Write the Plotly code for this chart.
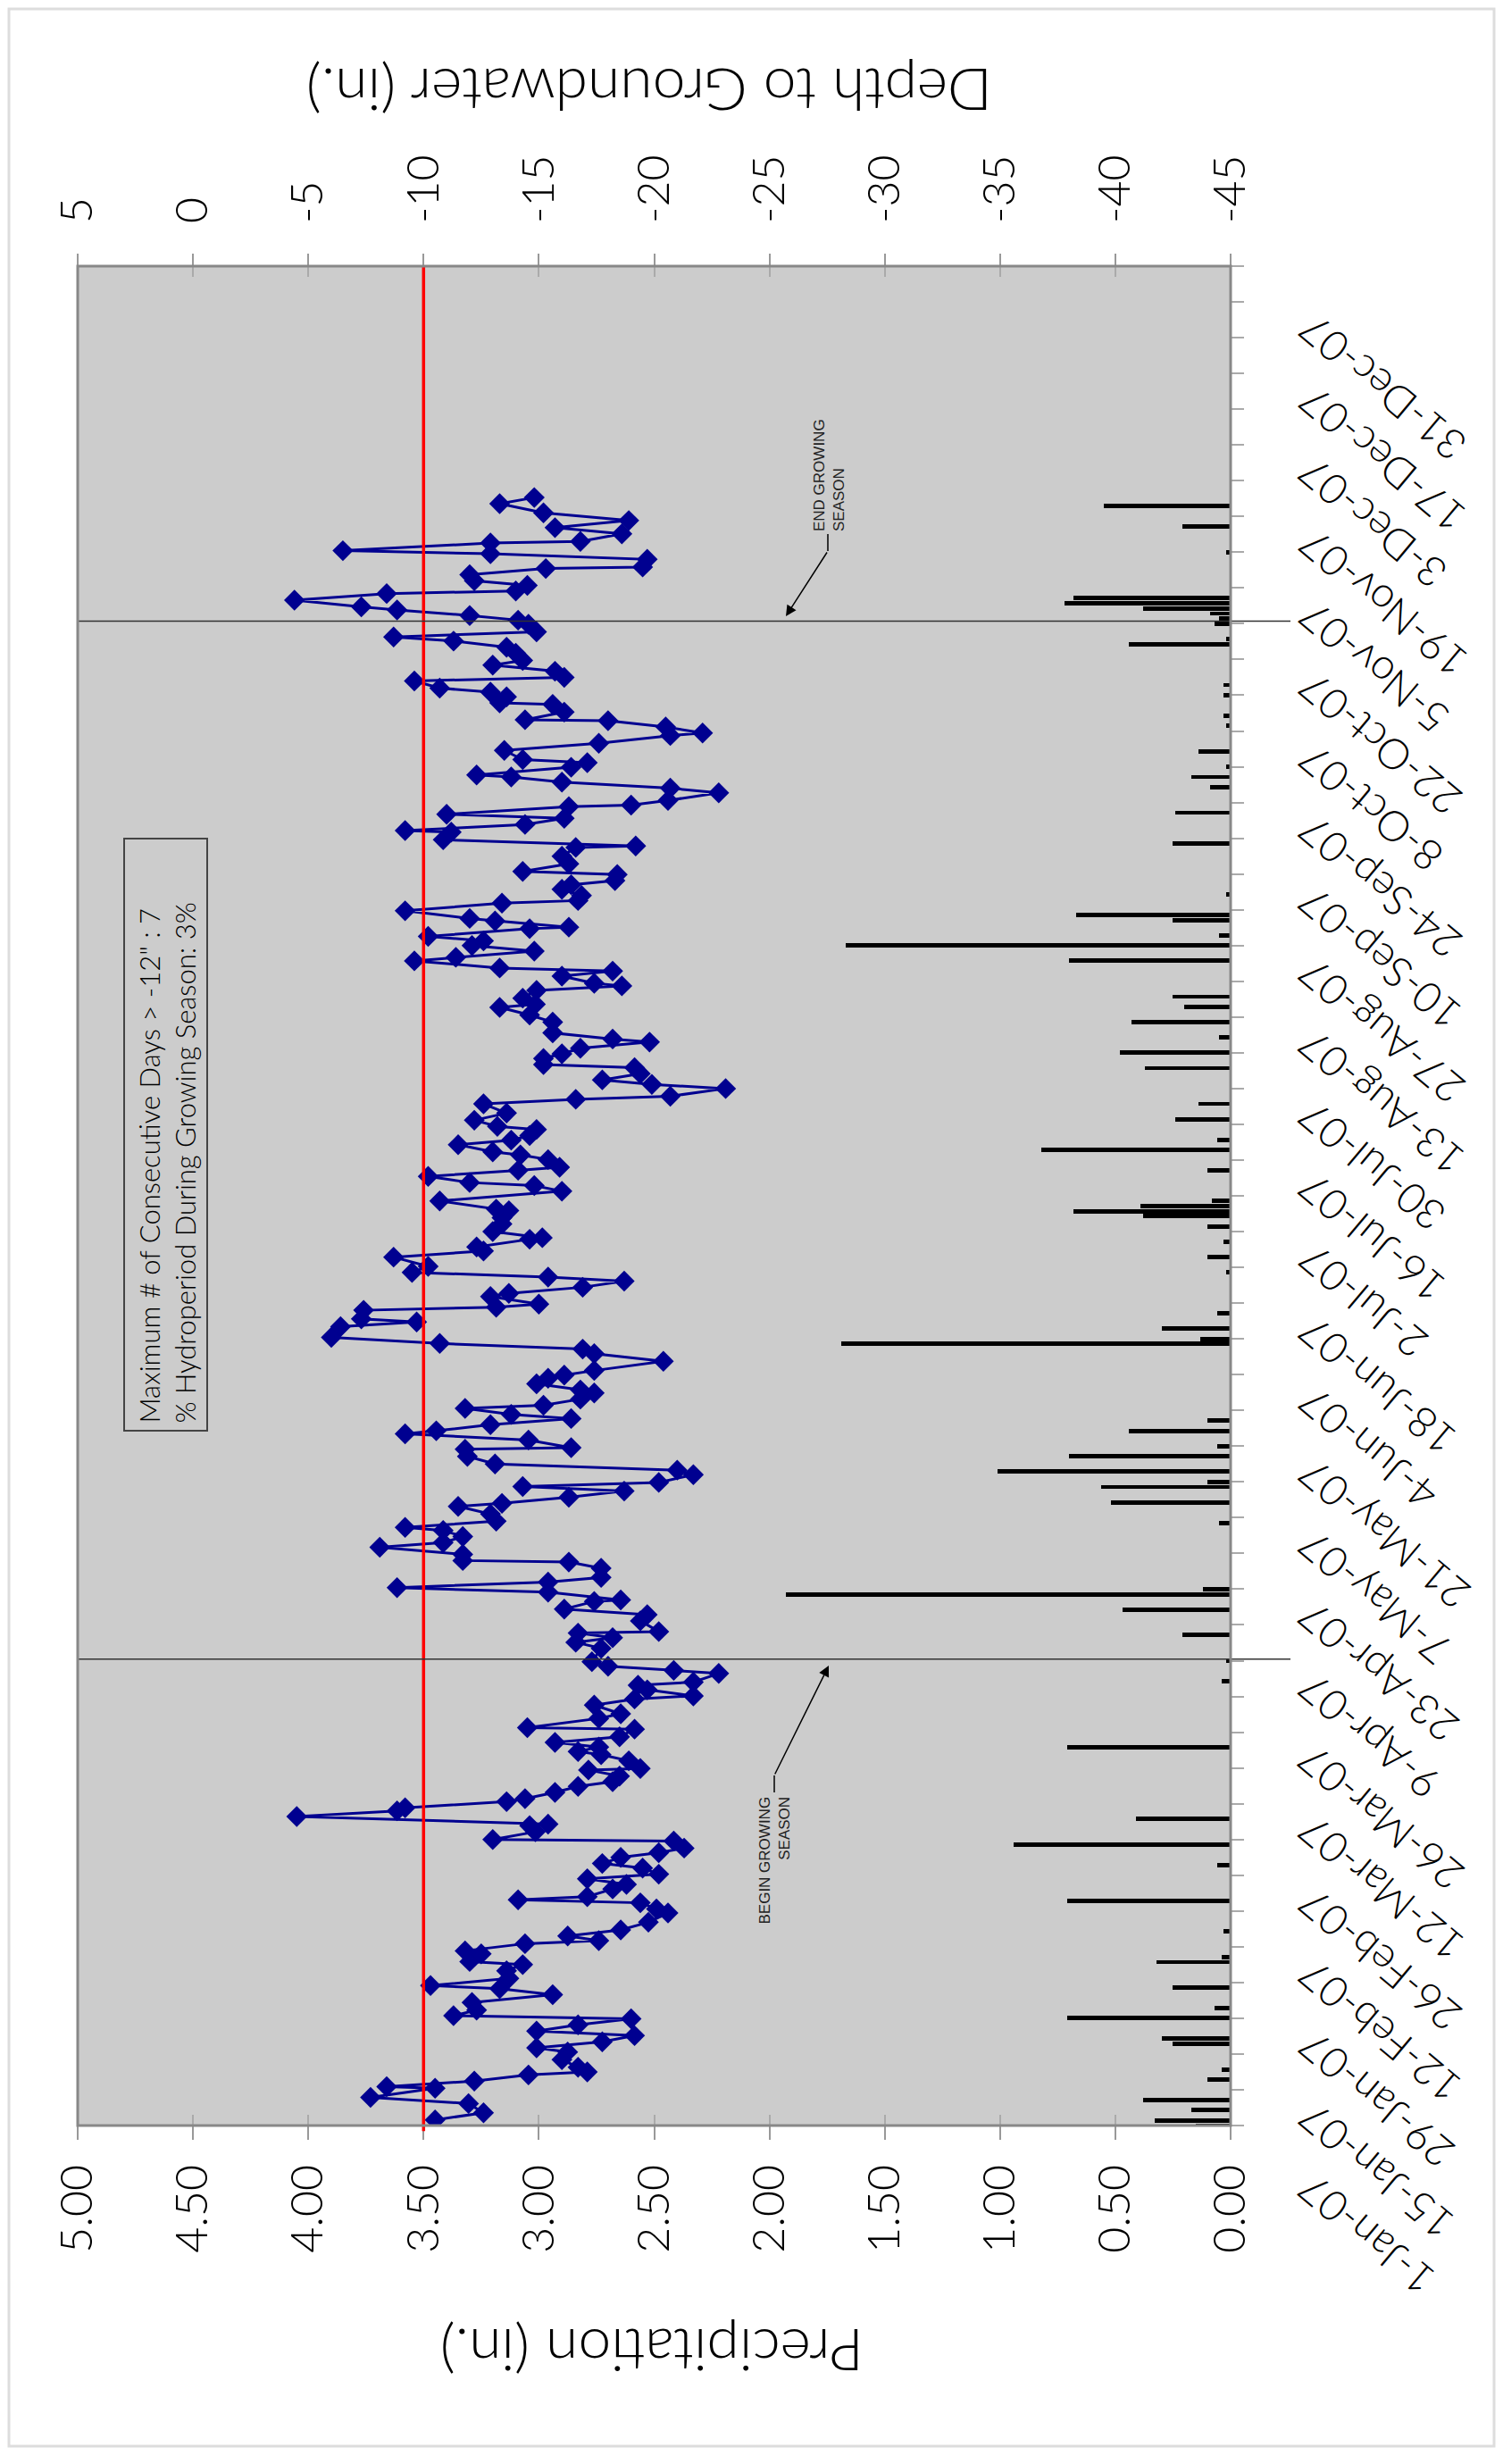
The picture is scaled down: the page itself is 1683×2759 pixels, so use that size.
import pandas as pd
import plotly.graph_objects as go

# ---------------- data ----------------
# groundwater readings: day offset from 1-Jan-2007, depth (in.)
gw_day = [1.1, 2.5, 4.3, 5.5, 7.3, 7.6, 8.7, 9.9, 10.5, 11.4, 12.9, 14.4, 15.2, 16.4, 17.6, 18.5, 19.7, 20.9,
          21.5, 22.6, 24.1, 25.6, 26.8, 27.4, 28.8, 30.3, 31.5, 32.1, 33.6, 34.2, 35.6, 36.2, 37.1, 38.3, 39.8,
          41.6, 42.4, 43.6, 44.2, 44.8, 46.3, 47.2, 48.3, 49.2, 50.4, 51.3, 52.5, 53.4, 54.3, 55.7, 56.0, 57.5,
          58.7, 59.0, 60.5, 61.6, 62.2, 63.4, 64.0, 65.2, 66.4, 67.3, 68.4, 69.6, 69.9, 71.4, 72.6, 73.2, 74.1,
          75.0, 76.1, 77.6, 77.9, 79.7, 80.6, 82.3, 83.5, 84.1, 85.3, 86.2, 86.8, 88.5, 89.1, 89.9, 90.8,
          93.4, 94.6, 95.5, 96.4, 96.7, 98.8, 100.0, 101.1, 102.6, 102.9, 104.4, 105.3, 106.4, 107.3, 109.1,
          110.3, 110.6, 111.8, 113.2, 114.1, 115.3, 116.5, 117.1, 118.3, 119.7, 121.2, 121.8, 123.0, 124.2,
          125.1, 125.9, 127.4, 128.3, 129.5, 131.0, 132.4, 132.7, 134.2, 135.4, 136.0, 137.2, 138.4, 139.2,
          140.4, 141.0, 142.2, 143.4, 144.0, 145.2, 146.3, 146.9, 147.8, 149.6, 151.1, 152.0, 153.1, 154.3,
          156.4, 157.3, 157.9, 159.6, 160.2, 160.8, 162.3, 162.9, 164.1, 165.3, 166.1, 167.0, 168.2, 170.0,
          171.2, 172.0, 173.5, 173.8, 175.0, 176.5, 177.7, 179.1, 179.4, 181.0,
          182.9, 184.0, 184.6, 185.8, 187.0, 187.6, 189.1, 190.0, 190.6, 192.0, 192.9, 193.8, 195.0, 195.6,
          196.8, 198.2, 200.0, 200.9, 201.5, 203.0, 203.8, 204.7, 205.9, 207.1, 207.7, 208.9, 209.8, 210.9,
          212.1, 212.7, 213.9, 216.0, 217.4, 218.9, 219.5, 220.7, 222.2, 223.1, 223.6, 225.0, 226.0, 226.6,
          228.0, 228.7, 229.9, 231.0, 231.9, 232.8, 234.3, 234.6, 235.8, 236.3, 237.8, 239.3, 239.8, 240.8,
          242.0, 242.9, 243.7, 244.9, 245.5, 247.0, 248.5, 250.2, 250.5, 251.7, 253.2, 253.5, 254.7, 255.9,
          256.7, 258.2, 258.5, 259.4, 260.9, 261.8, 263.0, 264.0, 264.4, 265.9, 266.8, 267.4, 269.2, 270.6,
          272.1, 272.6, 273.8, 275.0, 275.2, 276.7, 278.2, 278.5, 279.7, 280.6, 281.4, 282.8, 283.5, 284.7,
          285.9, 286.8, 288.2, 289.4, 290.6, 291.4, 292.4, 293.9, 294.7, 295.6, 296.7, 297.3, 298.6, 299.9,
          300.4, 301.5, 302.4, 303.6, 304.8, 305.1, 306.6, 307.7, 308.3, 309.8, 310.1, 311.6, 312.8, 314.2,
          315.7, 317.5, 318.7]
gw_depth = [-10.5, -12.6, -11.95, -7.7, -10.5, -8.4, -12.2, -14.55, -17.1, -16.7, -16.0, -16.25, -14.9, -17.75,
            -19.15, -14.9, -16.7, -19.0, -11.3, -12.3, -12.1, -15.6, -13.3, -10.3, -13.7, -13.6, -14.3, -12.0,
            -12.5, -11.8, -14.4, -17.6, -16.25, -18.55, -19.75, -20.6, -20.1, -19.4, -14.1, -17.1, -18.2, -18.8,
            -17.1, -20.2, -19.5, -17.75, -18.55, -20.2, -21.3, -20.85, -13.0, -14.85, -14.6, -15.4, -4.5, -8.85,
            -9.2, -13.6, -14.4, -15.7, -16.7, -18.2, -18.5, -17.15, -19.4, -18.9, -17.7, -16.7, -17.6, -15.7,
            -18.5, -19.15, -14.5, -17.6, -18.55, -17.4, -19.15, -21.7, -19.7, -19.3, -21.7, -22.8, -20.85, -18.0,
            -17.3,
            -17.7, -16.6, -18.2, -16.7, -20.2, -19.4, -19.7, -16.1, -17.4, -18.55, -15.4, -8.85, -15.4, -17.7,
            -17.7, -16.3, -11.7, -11.7, -8.1, -10.85, -11.7, -10.85, -9.2, -13.15, -12.9, -11.5, -13.4, -16.3,
            -18.7, -14.3, -20.2, -21.7, -21.0, -13.1, -11.9, -11.8, -16.4, -14.55, -9.2, -10.55, -12.9, -16.4,
            -13.8, -11.8, -15.2, -16.8, -17.4, -16.8, -14.9, -15.4, -16.1, -17.4, -20.4, -17.4, -16.9, -10.7,
            -6.0, -6.4, -9.7, -7.3, -7.4, -13.15, -15.0, -12.9, -13.7, -16.9, -18.7, -15.4, -9.5, -10.2, -8.7,
            -12.6, -12.3, -14.6, -15.15, -13.0, -13.4, -13.4, -13.7, -13.15, -10.7,
            -16.0, -14.8, -12.0, -10.2, -14.1, -15.9, -15.4, -14.2, -13.0, -11.5, -13.8, -14.6, -14.9, -13.2,
            -12.2, -13.6, -12.6, -16.6, -20.7, -23.1, -19.9, -17.75, -19.4, -19.15, -15.2, -15.2, -16.0, -16.8,
            -19.8, -18.2, -15.6, -15.6, -14.6, -13.3, -14.85, -14.3, -14.9, -18.6, -17.4, -16.0, -18.2, -13.3,
            -9.6, -11.4, -14.8, -12.1, -12.6, -10.2, -14.6, -16.3, -13.1, -12.0, -9.2, -13.4, -16.7, -16.85,
            -16.0, -16.4, -18.3, -18.4, -14.3, -16.3, -16.0, -16.6, -19.2, -10.85, -11.2, -9.2, -14.4, -16.1,
            -11.0, -16.3, -19.0, -20.6, -22.8, -20.7, -16.0, -13.8, -12.3, -16.4, -17.1, -14.3, -13.5, -17.6,
            -20.7, -22.1, -20.5, -18.0, -14.4, -16.1, -15.6, -13.3, -13.6, -12.9, -10.7, -9.6, -16.1, -15.7,
            -13.0, -14.3, -14.0, -13.6, -11.3, -8.7, -14.9, -14.55, -14.1, -12.0, -8.85, -7.3, -4.4, -8.4,
            -14.0, -14.5, -12.2, -12.0, -15.3, -19.5, -19.7, -12.9, -6.5, -12.9, -16.8, -18.6, -15.7, -18.9,
            -15.2, -13.3, -14.8]

# daily precipitation: day offset from 1-Jan-2007, inches
pr_day = [0, 1, 3, 5, 9, 11, 16, 17, 21, 23, 27, 32, 33, 38, 44, 51, 55, 60, 74, 87, 91, 96, 101, 104, 105,
          118, 122, 125, 126, 128, 131, 133, 136, 138, 153, 154, 156, 159, 167, 170, 173, 176, 178, 179, 180,
          181, 187, 191, 193, 197, 200, 207, 210, 213, 216, 219, 221, 228, 231, 233, 236, 237, 241, 251, 257,
          262, 264, 266, 269, 274, 276, 280, 282, 290, 291, 294, 295, 296, 297, 298, 299, 308, 313, 317]
pr_in = [0.15, 0.33, 0.17, 0.38, 0.10, 0.04, 0.25, 0.30, 0.71, 0.07, 0.25, 0.32, 0.04, 0.03, 0.71, 0.06, 0.94,
         0.41, 0.71, 0.04, 0.02, 0.21, 0.47, 1.93, 0.12, 0.05, 0.52, 0.56, 0.10, 1.01, 0.70, 0.06, 0.44, 0.10,
         1.69, 0.13, 0.30, 0.06, 0.02, 0.10, 0.03, 0.10, 0.38, 0.68, 0.39, 0.08, 0.10, 0.82, 0.06, 0.24, 0.14,
         0.37, 0.48, 0.05, 0.43, 0.20, 0.25, 0.70, 1.67, 0.05, 0.25, 0.67, 0.02, 0.25, 0.24, 0.09, 0.17, 0.02,
         0.14, 0.02, 0.03, 0.03, 0.03, 0.44, 0.02, 0.07, 0.05, 0.09, 0.38, 0.72, 0.68, 0.02, 0.21, 0.55]

precip_ticks = [5.0, 4.5, 4.0, 3.5, 3.0, 2.5, 2.0, 1.5, 1.0, 0.5, 0.0]
depth_ticks = [5, 0, -5, -10, -15, -20, -25, -30, -35, -40, -45]
THRESHOLD = -10
GROW_BEGIN = "2007-04-02 07:00"
GROW_END = "2007-10-22 12:00"
BOX_TEXT = 'Maximum # of Consecutive Days > -12" : 7<br>% Hydroperiod During Growing Season: 3%'

BASE = pd.Timestamp("2007-01-01")
gw_dates = [BASE + pd.Timedelta(days=d) for d in gw_day]
pr_dates = [BASE + pd.Timedelta(days=d) for d in pr_day]
label_dates = list(pd.date_range("2007-01-01", "2007-12-31", freq="14D"))
date_labels = [f"{d.day}-{d.strftime('%b')}-{d.strftime('%y')}" for d in label_dates]

# ---------------- layout geometry (page pixels; body margin is 8px) ----------------
OFF = 8
W, H = 1667, 2743              # figure size
L, R, T, B = 87, 1378, 298, 2380   # plot area in page pixels
PW, PH = R - L, B - T


def px(x):
    return (x - L) / PW


def py(y):
    return (B - y) / PH


FONT = "Lato, Liberation Sans, sans-serif"
NARROW = "Liberation Sans Narrow, Liberation Sans, sans-serif"
NAVY = "#000090"

fig = go.Figure()
fig.add_trace(go.Bar(x=pr_in, y=pr_dates, orientation="h", marker=dict(color="black", line=dict(width=0)),
                     width=0.85 * 86400000, xaxis="x", yaxis="y", showlegend=False))
fig.add_trace(go.Scatter(x=gw_depth, y=gw_dates, mode="lines+markers", xaxis="x2", yaxis="y",
                         line=dict(color=NAVY, width=3),
                         marker=dict(symbol="diamond", size=18, color=NAVY), showlegend=False))
# helper empty traces so the inside-tick axes get drawn
fig.add_trace(go.Scatter(x=[None], y=[None], xaxis="x3", yaxis="y", showlegend=False, hoverinfo="skip"))
fig.add_trace(go.Scatter(x=[None], y=[None], xaxis="x4", yaxis="y", showlegend=False, hoverinfo="skip"))

tickfont = dict(family=FONT, size=50, color="black", weight=300)

fig.update_layout(
    width=W, height=H,
    margin=dict(l=L - OFF, r=W - (R - OFF), t=T - OFF, b=H - (B - OFF), pad=0, autoexpand=False),
    paper_bgcolor="white", plot_bgcolor="#cccccc",
    font=dict(family=FONT, color="black"),
    showlegend=False,
    bargap=0,
    xaxis=dict(range=[5, 0], tickmode="array", tickvals=precip_ticks,
               ticktext=[f"{v:.2f}" for v in precip_ticks], ticks="outside", ticklen=15,
               tickcolor="#999999", tickwidth=2, tickangle=-90, tickfont=tickfont,
               ticklabelstandoff=8, showgrid=False, zeroline=False, showline=False),
    xaxis2=dict(range=[5, -45], overlaying="x", side="top", tickmode="array", tickvals=depth_ticks,
                ticktext=[str(v) for v in depth_ticks], ticks="outside", ticklen=13,
                tickcolor="#999999", tickwidth=2, tickangle=-90, tickfont=tickfont,
                ticklabelstandoff=24, showgrid=False, zeroline=False, showline=False),
    xaxis3=dict(range=[5, 0], overlaying="x", side="bottom", tickmode="array", tickvals=precip_ticks,
                ticks="inside", ticklen=12, tickcolor="#aaaaaa", tickwidth=2, showticklabels=False,
                showgrid=False, zeroline=False, showline=False),
    xaxis4=dict(range=[5, -45], overlaying="x", side="top", tickmode="array", tickvals=depth_ticks,
                ticks="inside", ticklen=12, tickcolor="#aaaaaa", tickwidth=2, showticklabels=False,
                showgrid=False, zeroline=False, showline=False),
    yaxis=dict(type="date", range=[BASE, BASE + pd.Timedelta(days=364)], side="right",
               tick0="2007-01-01", dtick=7 * 86400000, ticks="outside", ticklen=14,
               tickcolor="#aaaaaa", tickwidth=2, showticklabels=False, showgrid=False,
               zeroline=False, showline=False),
)

shapes = []
# page frame
shapes.append(dict(type="rect", xref="paper", yref="paper", x0=px(10), x1=px(1673), y0=py(2739), y1=py(10),
                   line=dict(color="#dddddd", width=3), fillcolor="rgba(0,0,0,0)", layer="below"))
# statistics box
shapes.append(dict(type="rect", xref="paper", yref="paper", x0=px(139), x1=px(232), y0=py(1602), y1=py(939),
                   line=dict(color="#444444", width=2), fillcolor="#cccccc", layer="below"))
# threshold line
shapes.append(dict(type="line", xref="x2", yref="paper", x0=THRESHOLD, x1=THRESHOLD, y0=-0.003, y1=1,
                   line=dict(color="#ff0000", width=3.5), layer="above"))
# growing season lines
for d in (GROW_BEGIN, GROW_END):
    shapes.append(dict(type="line", xref="paper", yref="y", x0=0, x1=px(1445), y0=d, y1=d,
                       line=dict(color="#333333", width=1.5), layer="above"))
# leader stubs
shapes.append(dict(type="line", xref="paper", yref="paper", x0=px(927), x1=px(927), y0=py(598), y1=py(617),
                   line=dict(color="black", width=1.5)))
shapes.append(dict(type="line", xref="paper", yref="paper", x0=px(867), x1=px(867), y0=py(1988), y1=py(2007),
                   line=dict(color="black", width=1.5)))
# plot border
shapes.append(dict(type="rect", xref="paper", yref="paper", x0=0, x1=1, y0=0, y1=1,
                   line=dict(color="#888888", width=3), fillcolor="rgba(0,0,0,0)", layer="above"))
fig.update_layout(shapes=shapes)

ann = []
ann.append(dict(text="Depth to Groundwater (in.)", xref="paper", yref="paper", x=px(727), y=py(103),
                xanchor="center", yanchor="middle", textangle=180, showarrow=False,
                font=dict(family=FONT, size=66, weight=300)))
ann.append(dict(text="Precipitation (in.)", xref="paper", yref="paper", x=px(730), y=py(2634),
                xanchor="center", yanchor="middle", textangle=180, showarrow=False,
                font=dict(family=FONT, size=66, weight=300)))
for d, t in zip(label_dates, date_labels):
    ann.append(dict(text=t, xref="paper", yref="y", x=px(1440), y=d, yshift=-40, xanchor="left",
                    yanchor="top", textangle=-140, showarrow=False,
                    font=dict(family=FONT, size=47, weight=300)))
ann.append(dict(text=BOX_TEXT, xref="paper", yref="paper", x=px(186), y=py(1596), xanchor="center",
                yanchor="bottom", textangle=-90, align="left", showarrow=False,
                font=dict(family=FONT, size=31, weight=300)))
ann.append(dict(text="END GROWING<br>SEASON", xref="paper", yref="paper", x=px(928), y=py(597),
                xanchor="center", yanchor="bottom", textangle=-90, align="left", showarrow=False,
                font=dict(family=NARROW, size=17, color="#222222")))
ann.append(dict(text="BEGIN GROWING<br>SEASON", xref="paper", yref="paper", x=px(867), y=py(2010),
                xanchor="center", yanchor="top", textangle=-90, align="right", showarrow=False,
                font=dict(family=NARROW, size=17, color="#222222")))
# arrows
ann.append(dict(text="", xref="paper", yref="paper", x=px(880), y=py(690), ax=927 - 880, ay=617 - 690,
                showarrow=True, arrowhead=2, arrowsize=1.6, arrowwidth=1.5, arrowcolor="black"))
ann.append(dict(text="", xref="paper", yref="paper", x=px(928), y=py(1865), ax=867 - 928, ay=1988 - 1865,
                showarrow=True, arrowhead=2, arrowsize=1.6, arrowwidth=1.5, arrowcolor="black"))
fig.update_layout(annotations=ann)

fig.write_html("out.html")
